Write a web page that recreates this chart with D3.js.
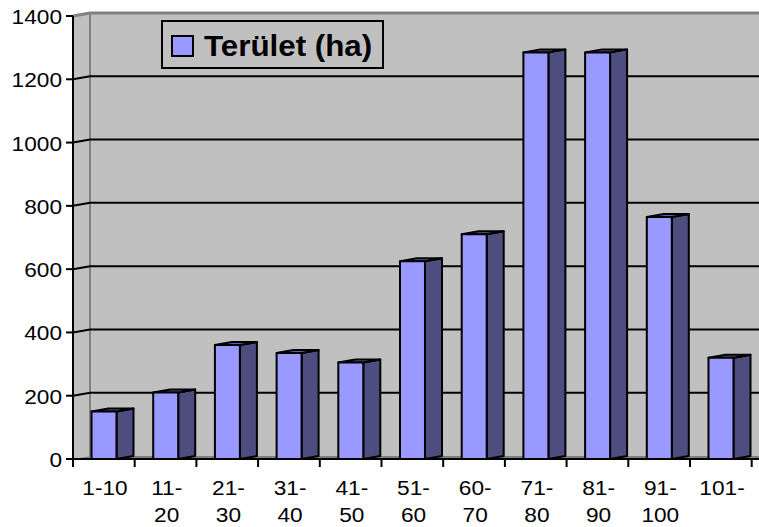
<!DOCTYPE html>
<html>
<head>
<meta charset="utf-8">
<script src="https://cdn.jsdelivr.net/npm/d3@7"></script>
<style>
  body { margin: 0; background: #fff; }
  text { font-family: "Liberation Sans", Arial, sans-serif; }
</style>
</head>
<body>
<div id="chart"></div>
<script>
const width = 759;
const height = 527;

// data
const categories = ["1-10", "11-20", "21-30", "31-40", "41-50", "51-60", "60-70", "71-80", "81-90", "91-100", "101-"];
const labelLines = [["1-10"], ["11-", "20"], ["21-", "30"], ["31-", "40"], ["41-", "50"], ["51-", "60"],
                    ["60-", "70"], ["71-", "80"], ["81-", "90"], ["91-", "100"], ["101-"]];
const values = [150, 210, 360, 335, 305, 625, 710, 1285, 1285, 765, 320];
const yTicks = [0, 200, 400, 600, 800, 1000, 1200, 1400];
const seriesName = "Terület (ha)";

const plotLeft = 73, plotRight = 752, plotBottom = 459, plotTop = 16;
const dx = 17, dy = -3;   // depth offset of the 3d box

const x = d3.scaleBand().domain(categories).range([plotLeft, plotRight]).paddingInner(0.595).paddingOuter(0.3);
const y = d3.scaleLinear().domain([0, 1400]).range([plotBottom, plotTop]);

const svg = d3.select("#chart").append("svg")
    .attr("width", width)
    .attr("height", height);

const pts = p => p.map(d => d.join(",")).join(" ");

// walls and floor
svg.append("polygon")
    .attr("points", pts([[plotLeft + dx, y(1400) + dy], [width, y(1400) + dy], [width, plotBottom + dy], [plotLeft + dx, plotBottom + dy]]))
    .attr("fill", "#c0c0c0");
svg.append("polygon")
    .attr("points", pts([[plotLeft, plotBottom], [plotLeft, y(1400)], [plotLeft + dx, y(1400) + dy], [plotLeft + dx, plotBottom + dy]]))
    .attr("fill", "#c0c0c0");
svg.append("polygon")
    .attr("points", pts([[plotLeft, plotBottom], [plotLeft + dx, plotBottom + dy], [width, plotBottom + dy], [width, plotBottom]]))
    .attr("fill", "#808080");

svg.append("line")
    .attr("x1", plotLeft + dx).attr("x2", plotLeft + dx)
    .attr("y1", y(1400) + dy).attr("y2", plotBottom + dy)
    .attr("stroke", "#808080").attr("stroke-width", 2);

// gridlines (slanted across the side wall, then along the back wall)
svg.append("g").selectAll("polyline")
  .data(yTicks.filter(d => d > 0))
  .join("polyline")
    .attr("points", d => pts([[plotLeft, y(d)], [plotLeft + dx, y(d) + dy], [width, y(d) + dy]]))
    .attr("fill", "none")
    .attr("stroke", d => d === 1400 ? "#808080" : "#000")
    .attr("stroke-width", d => d === 1400 ? 3 : 2);

// bars
const bars = svg.append("g")
    .attr("stroke", "#000")
    .attr("stroke-width", 2)
    .attr("stroke-linejoin", "round")
  .selectAll("g")
  .data(categories.map((c, i) => ({c, v: values[i]})))
  .join("g");

bars.append("polygon")
    .attr("fill", "#4d4d80")
    .attr("points", d => {
      const xr = x(d.c) + x.bandwidth();
      return pts([[xr, y(d.v)], [xr + dx, y(d.v) + dy], [xr + dx, plotBottom + dy], [xr, plotBottom]]);
    });
bars.append("polygon")
    .attr("fill", "#5f5f9f")
    .attr("points", d => {
      const xl = x(d.c), xr = xl + x.bandwidth();
      return pts([[xl, y(d.v)], [xl + dx, y(d.v) + dy], [xr + dx, y(d.v) + dy], [xr, y(d.v)]]);
    });
bars.append("rect")
    .attr("fill", "#9999ff")
    .attr("x", d => x(d.c))
    .attr("y", d => y(d.v))
    .attr("width", x.bandwidth())
    .attr("height", d => plotBottom - y(d.v));

// axes
const axes = svg.append("g").attr("stroke", "#000").attr("stroke-width", 2);
axes.append("line").attr("x1", plotLeft).attr("x2", plotLeft).attr("y1", y(1400)).attr("y2", plotBottom + 1);
axes.append("line").attr("x1", plotLeft - 1).attr("x2", width).attr("y1", plotBottom).attr("y2", plotBottom);
axes.selectAll(".yt").data(yTicks).join("line")
    .attr("x1", plotLeft - 7).attr("x2", plotLeft)
    .attr("y1", d => y(d)).attr("y2", d => y(d));
const step = x.step();
axes.selectAll(".xt").data(d3.range(categories.length + 1)).join("line")
    .attr("x1", i => plotLeft + i * step).attr("x2", i => plotLeft + i * step)
    .attr("y1", plotBottom).attr("y2", plotBottom + 8);

svg.append("g").selectAll("text")
  .data(yTicks)
  .join("text")
    .attr("transform", d => `translate(62,${y(d) + 8}) scale(1.08,1)`)
    .attr("text-anchor", "end")
    .attr("font-size", 21)
    .text(d => d);

const xl = svg.append("g").selectAll("g")
  .data(categories)
  .join("g")
    .attr("transform", d => `translate(${x(d) + x.bandwidth() / 2 + 1},0)`);
xl.selectAll("text")
  .data((d, i) => labelLines[i])
  .join("text")
    .attr("transform", (t, j) => `translate(0,${495 + j * 27}) scale(1.08,1)`)
    .attr("text-anchor", "middle")
    .attr("font-size", 21)
    .text(t => t);

// legend
const legend = svg.append("g");
legend.append("rect")
    .attr("x", 162).attr("y", 21).attr("width", 221).attr("height", 47)
    .attr("fill", "#c0c0c0").attr("stroke", "#000").attr("stroke-width", 2);
legend.append("rect")
    .attr("x", 172).attr("y", 36).attr("width", 21).attr("height", 20)
    .attr("fill", "#9999ff").attr("stroke", "#000").attr("stroke-width", 2);
legend.append("text")
    .attr("transform", "translate(204,56) scale(1.08,1)")
    .attr("font-size", 29)
    .attr("font-weight", "bold")
    .text(seriesName);
</script>
</body>
</html>
